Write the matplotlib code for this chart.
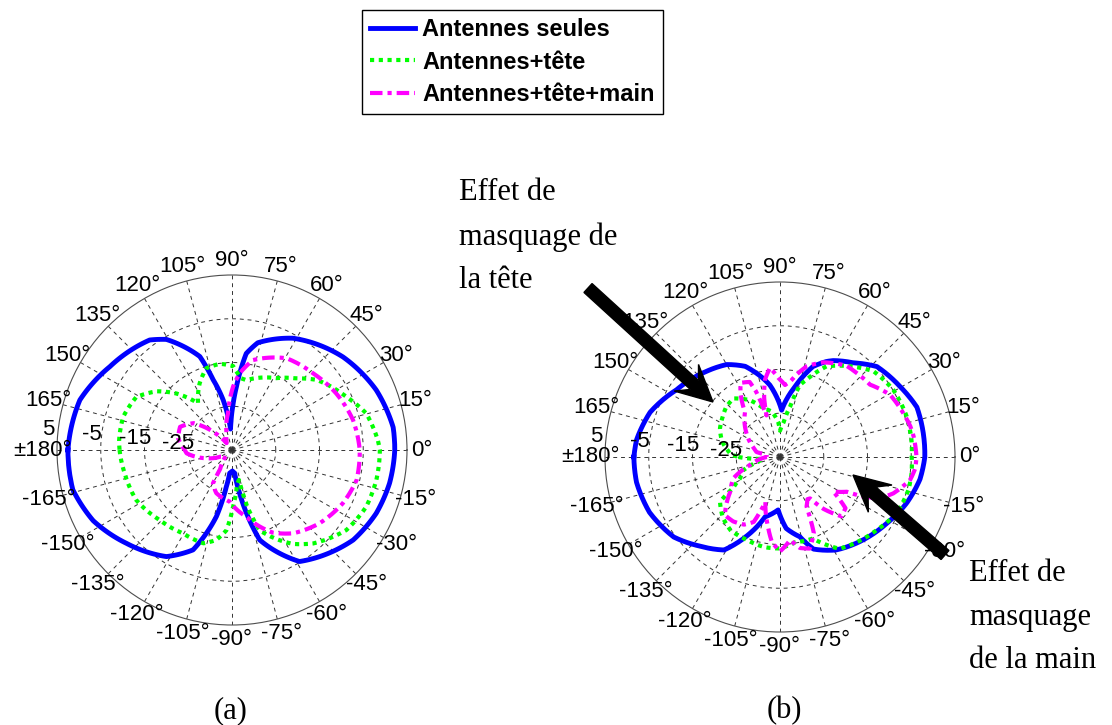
import numpy as np
import matplotlib
matplotlib.use('Agg')
import matplotlib.pyplot as plt
from matplotlib.patches import FancyArrow

# ---------------- data (angle in degrees, gain in dB) ----------------
series_labels = ['Antennes seules', 'Antennes+tête', 'Antennes+tête+main']

a_seules_theta = [-180, -166, -153, -138.5, -121.6, -111.3, -103.2, -98.8, -95.7, -89, -83.5, -80,
                  -72.9, -58.8, -36.6, -23.7, -11.9, 0, 8, 22.6, 40, 61.4, 76.5, 81.6, 84.3, 86,
                  89, 92, 94, 97, 100, 105, 109, 120.7, 126.8, 145.7, 161.8, 180]
a_seules_db = [2.5, 2.5, 0.6, -2.8, -6.4, -10.5, -19.4, -26.5, -29.7, -30.2, -29.7, -24.9,
               -13.5, -5.2, -0.5, 1.0, 1.8, 2.2, 2.2, 0.7, -1.9, -5.9, -9.8, -12.7, -17.4, -20.5,
               -25, -28.5, -30.2, -27, -23.4, -18.4, -12.4, -5.6, -3.6, -1.2, 1.6, 2.5]

a_tete_theta = [-180, -167.7, -152.4, -136, -120.5, -107, -100, -94, -89, -82, -77, -75, -71,
                -57, -49, -35, -23, -11.7, 0, 3.9, 15.3, 25, 39.7, 48, 58.3, 78.4, 82.6, 86.8,
                89.3, 98, 107.4, 116, 126, 134.5, 142, 151, 163, 175, 180]
a_tete_db = [-9.3, -9.9, -10.3, -12.0, -12.9, -12.7, -14.1, -16.6, -22, -27, -28, -21.7, -15.6,
             -9.4, -6.7, -3.1, -1.7, -1.3, -1.2, -1.6, -3.2, -6.2, -9.9, -13.0, -15.7, -18.7, -18.5, -17.1,
             -15.8, -15.1, -15.4, -18.1, -21.8, -16.9, -13.2, -10, -9, -9.1, -9.3]

a_main_theta = [-180, -175.8, -162, -150, -135, -122, -119.7, -109.9, -92.6, -77.9, -63.6, -53.8,
                -39.9, -25.7, -13.6, 0, 13.9, 28.5, 43.4, 59.3, 76.9, 84.3, 89, 96, 108, 120,
                128, 145, 156, 167.7, 180]
a_main_db = [-24.2, -24.6, -28.9, -32, -33, -30, -26.2, -24.5, -23.2, -19.4, -13.9, -11.4,
             -8.9, -6.9, -5.7, -5.8, -6.5, -7.9, -9.5, -10.6, -13.9, -17.4, -20.5, -26.5, -31, -32.5,
             -33, -24.3, -22, -22.4, -24.2]

b_seules_theta = [-180, -170, -157, -143, -132, -121, -113, -104, -92, -85, -76, -70, -59, -46.5,
                  -32, -20, -9, 0, 9.5, 20, 30.5, 43, 52, 61, 64, 70, 78, 88, 98, 108, 111, 120,
                  130.6, 147, 161, 173, 180]
b_seules_db = [-1.6, -1.7, -2.6, -4.6, -7.6, -10.2, -15.3, -20.9, -22.9, -18.6, -16.2, -12.6, -10.2,
               -8.4, -6.3, -4.2, -2.6, -1.9, -1.8, -1.7, -3.2, -4.7, -7.7, -9.8, -10.7, -13, -18.6,
               -24.3, -18.4, -14.1, -12.8, -10.6, -9.2, -6.8, -3.6, -2, -1.6]

b_tete_theta = [-180, -174, -168, -160, -152, -146.6, -143.3, -133, -124, -112, -100, -90, -80,
                -68, -57, -37, -25.6, -14.3, -7, 0, 7.5, 17.8, 30.7, 42.5, 52.3, 62.8, 71, 74.5,
                78.7, 84, 90, 93, 100, 109, 118, 128.5, 137, 145, 154.5, 165, 172, 177, 180]
b_tete_db = [-25.5, -31, -30, -26, -24.7, -22.2, -17.9, -15.9, -14.8, -14.6, -14.1, -14.1, -15.2,
             -14.9, -10, -7.3, -5.4, -4.7, -4.7, -4.9, -4.7, -4.6, -4.9, -6, -8.8, -11.7, -16.3, -17.9,
             -23.3, -27, -29, -27, -24.5, -23.2, -20.3, -17.9, -18.2, -19, -19.8, -21.3, -22.8, -23.8,
             -25.5]

b_main_theta = [-180, -165, -155.5, -145, -133.5, -126, -118, -112, -108, -100, -95.6, -90, -83,
                -77.6, -72, -66, -62, -57, -54, -50, -44, -38, -33, -27.5, -25.5, -22.4, -17.8,
                -10, -5, 0, 8.8, 13.3, 19.6, 29.5, 38.8, 47.6, 53.9, 65.4, 73.6, 78, 82, 86, 91,
                96.4, 101, 105, 108, 110, 112, 118, 122, 128, 146, 160, 168, 171, 180]
b_main_db = [-32, -27.9, -23.3, -21.1, -16.7, -16.8, -17.5, -19, -24.2, -19, -15.6, -13.4, -15.9,
             -13.7, -13, -16, -22.1, -23.5, -23.3, -19.5, -15.5, -16, -20.5, -17.8, -14, -10.3, -7.8,
             -4.8, -4, -3.8, -4.1, -4.4, -5.1, -6.1, -8.6, -9, -9.2, -11.2, -13.4, -15.5, -17.5, -18.5,
             -17, -14.5, -17, -21, -25, -19.2, -16.5, -15.8, -18, -22, -25.9, -28.5, -29.5, -31.9, -32]

ring_values = [-25, -15, -5, 5]
r_limits = (-35, 5)
theta_ticks = list(range(0, 360, 15))

# ---------------- figure ----------------
W, H = 1112, 725
fig = plt.figure(figsize=(W / 100, H / 100), dpi=100)
fig.patch.set_facecolor('white')

R_PX = 175
STYLES = [dict(color='#0000ff', lw=3.5, ls='-'),
          dict(color='#00ff00', lw=3.0, ls=(0, (1, 1.1))),
          dict(color='#ff00ff', lw=3.0, ls=(0, (3, 1.2, 1, 1.2)))]
LABEL_FONT = dict(fontsize=16, family='Liberation Sans')


def theta_label(a):
    if a == 180:
        return '±180°'
    if a > 180:
        return '-%d°' % (360 - a)
    return '%d°' % a


def make_polar(cx, cy, data):
    rect = [(cx - R_PX) / W, (H - cy - R_PX) / H, 2 * R_PX / W, 2 * R_PX / H]
    ax = fig.add_axes(rect, projection='polar')
    ax.set_ylim(*r_limits)
    ax.set_thetagrids(theta_ticks, labels=[''] * len(theta_ticks))
    ax.set_rgrids(ring_values[:-1], labels=[''] * (len(ring_values) - 1))
    ax.grid(True, color='0.2', linewidth=0.7, linestyle=(0, (4, 4)))
    ax.tick_params(length=0)
    ax.spines['polar'].set_color('0.3')
    ax.spines['polar'].set_linewidth(0.8)
    lines = []
    for (th, db), st in zip(data, STYLES):
        ln, = ax.plot(np.deg2rad(th), db, color=st['color'], lw=st['lw'], ls=st['ls'])
        # let the polar transform draw each segment along the polar grid
        ln.get_path()._interpolation_steps = 24
        lines.append(ln)
    for a in theta_ticks:
        ax.text(np.deg2rad(a), 8.4, theta_label(a), ha='center', va='center',
                clip_on=False, **LABEL_FONT)
    for rv in ring_values:
        ax.text(np.deg2rad(173.5), rv + 2.3, '%d' % rv, ha='center', va='center',
                clip_on=False, **LABEL_FONT)
    return ax, lines


axa, lines_a = make_polar(232, 450, [(a_seules_theta, a_seules_db),
                                     (a_tete_theta, a_tete_db),
                                     (a_main_theta, a_main_db)])
axb, lines_b = make_polar(780, 457, [(b_seules_theta, b_seules_db),
                                     (b_tete_theta, b_tete_db),
                                     (b_main_theta, b_main_db)])

leg = fig.legend(lines_a, series_labels, loc='upper left',
                 bbox_to_anchor=(362 / W, 1 - 10 / H), borderaxespad=0,
                 prop=dict(family='Liberation Sans', weight='bold', size=17),
                 fancybox=False, edgecolor='black', framealpha=1,
                 borderpad=0.35, handlelength=1.9, handletextpad=0.3, labelspacing=0.4)
leg.get_frame().set_linewidth(1.0)

# overlay in pixel coordinates for arrows and annotations
ov = fig.add_axes([0, 0, 1, 1], zorder=10)
ov.set_xlim(0, W)
ov.set_ylim(H, 0)
ov.set_axis_off()
ov.patch.set_alpha(0)

for (x0, y0), (x1, y1) in [((588, 288), (713, 402)), ((945, 555), (853, 475))]:
    ov.add_patch(FancyArrow(x0, y0, x1 - x0, y1 - y0, width=12, head_width=36,
                            head_length=36, overhang=0.3, length_includes_head=True,
                            color='black'))

serif = dict(family='Liberation Serif', fontsize=22, linespacing=1.67)
ov.text(459, 178, 'Effet de\nmasquage de\nla tête', ha='left', va='top', **serif)
ov.text(969, 559, 'Effet de\nmasquage\nde la main', ha='left', va='top', **serif)
ov.text(231, 718, '(a)', ha='center', va='baseline', family='Liberation Serif', fontsize=22)
ov.text(784, 718, '(b)', ha='center', va='baseline', family='Liberation Serif', fontsize=22)

fig.savefig('out.png', dpi=100)
